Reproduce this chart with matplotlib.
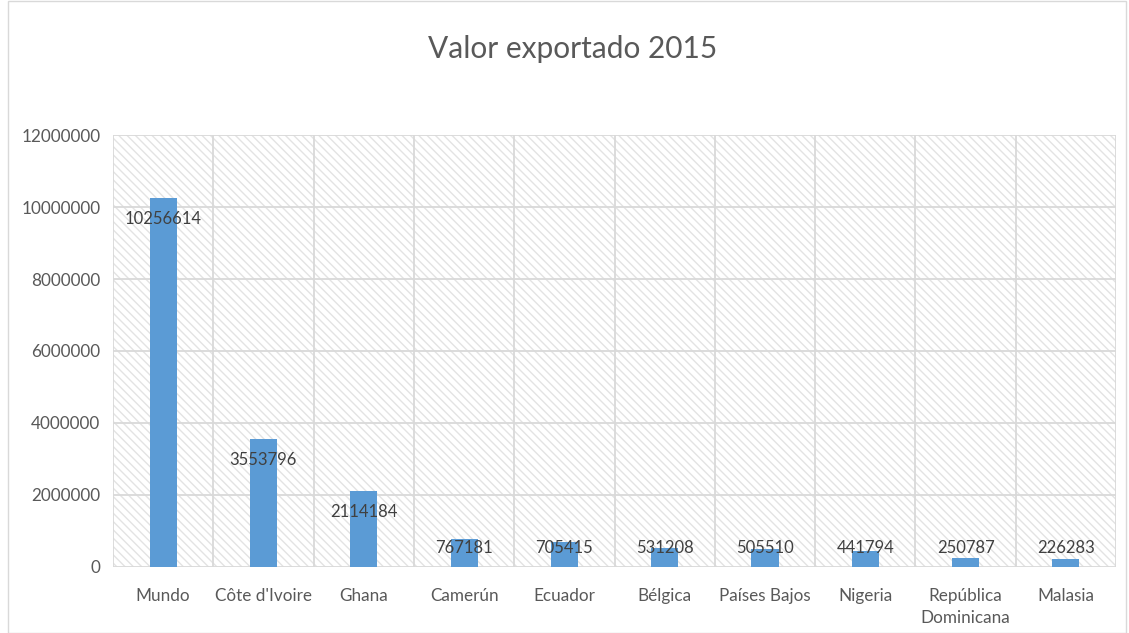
import numpy as np
import matplotlib.pyplot as plt
from matplotlib.patches import Rectangle

# data
paises = ["Mundo", "Côte d'Ivoire", "Ghana", "Camerún", "Ecuador", "Bélgica",
          "Países Bajos", "Nigeria", "República\nDominicana", "Malasia"]
valores = [10256614, 3553796, 2114184, 767181, 705415, 531208,
           505510, 441794, 250787, 226283]

plt.rcParams['font.family'] = ['Lato', 'DejaVu Sans']
plt.rcParams['hatch.linewidth'] = 1.0
plt.rcParams['hatch.color'] = '#e3e3e3'

fig = plt.figure(figsize=(11.29, 6.33), dpi=100)
ax = fig.add_axes([0.1001, 0.1043, 0.8884, 0.6824])

# hatched plot area
ax.patch.set_facecolor('white')
ax.add_patch(Rectangle((0, 0), 1, 1, transform=ax.transAxes, facecolor='white',
                       edgecolor='#e3e3e3', hatch='\\\\\\\\', lw=0, zorder=0))

x = np.arange(len(paises))
ax.bar(x, valores, width=0.27, color='#5b9bd5', zorder=3)

ymax = 12000000
ax.set_ylim(0, ymax)
ax.set_xlim(-0.5, len(paises) - 0.5)

# labels: inside end, kept above the baseline
for xi, v in zip(x, valores):
    y = max(v - 0.0486 * ymax, 0.044 * ymax)
    ax.text(xi, y, str(v), ha='center', va='center', fontsize=12,
            color='#404040', zorder=4)

ax.set_yticks(np.arange(0, ymax + 1, 2000000))
ax.set_yticklabels([str(t) for t in np.arange(0, ymax + 1, 2000000)])
ax.set_xticks(x)
ax.set_xticklabels(paises, linespacing=1.45)
ax.tick_params(axis='both', length=0, labelsize=12.3, labelcolor='#595959')
ax.tick_params(axis='x', pad=15)
ax.tick_params(axis='y', pad=9)

# grid lines
for t in np.arange(0, ymax + 1, 2000000):
    ax.axhline(t, color='#d9d9d9', lw=1.3, zorder=1)
for b in np.arange(-0.5, len(paises), 1.0):
    ax.axvline(b, color='#d9d9d9', lw=1.3, zorder=1)
for s in ax.spines.values():
    s.set_visible(False)

fig.suptitle("Valor exportado 2015", x=0.507, y=0.945, fontsize=21.5,
             color='#595959')

# chart frame
fig.add_artist(Rectangle((0.007, 0.0), 0.99, 0.998, transform=fig.transFigure,
                         fill=False, edgecolor='#d9d9d9', lw=1))

plt.savefig("out.png", dpi=100)
